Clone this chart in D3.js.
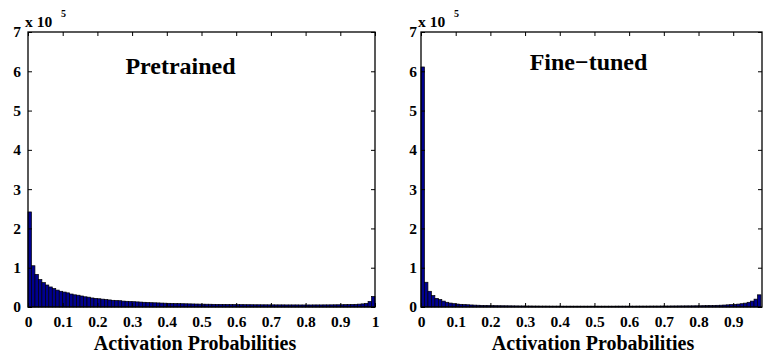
<!DOCTYPE html>
<html>
<head>
<meta charset="utf-8">
<script src="https://cdn.jsdelivr.net/npm/d3@7"></script>
<style>
  html, body { margin: 0; padding: 0; background: #fff; }
  svg { display: block; }
  text { font-family: "Liberation Serif", "Times New Roman", serif; font-weight: bold; fill: #000; }
</style>
</head>
<body>
<svg id="chart" width="764" height="358"></svg>
<script>
// ---- Data (counts in units of 1e5, bins of width 0.01) ----
const pretrainedCounts = [
  2.42, 1.05, 0.83, 0.70, 0.62, 0.56, 0.51, 0.47, 0.43, 0.40,
  0.38, 0.36, 0.33, 0.31, 0.30, 0.28, 0.26, 0.25, 0.23, 0.22,
  0.21, 0.20, 0.19, 0.18, 0.17, 0.165, 0.16, 0.15, 0.145, 0.14,
  0.135, 0.13, 0.125, 0.12, 0.115, 0.11, 0.107, 0.104, 0.10, 0.097,
  0.094, 0.091, 0.088, 0.086, 0.084, 0.082, 0.080, 0.078, 0.076, 0.074,
  0.072, 0.071, 0.070, 0.068, 0.067, 0.066, 0.065, 0.064, 0.063, 0.062,
  0.061, 0.060, 0.059, 0.059, 0.058, 0.057, 0.057, 0.056, 0.056, 0.055,
  0.055, 0.054, 0.054, 0.054, 0.053, 0.053, 0.053, 0.053, 0.052, 0.052,
  0.052, 0.052, 0.053, 0.053, 0.053, 0.054, 0.054, 0.055, 0.056, 0.057,
  0.058, 0.060, 0.062, 0.065, 0.068, 0.073, 0.080, 0.092, 0.14, 0.27
];
const finetunedCounts = [
  6.11, 0.63, 0.40, 0.29, 0.22, 0.19, 0.15, 0.12, 0.10, 0.085,
  0.075, 0.068, 0.062, 0.057, 0.052, 0.048, 0.045, 0.042, 0.040, 0.038,
  0.036, 0.034, 0.033, 0.032, 0.031, 0.030, 0.029, 0.028, 0.027, 0.027,
  0.026, 0.026, 0.025, 0.025, 0.024, 0.024, 0.024, 0.023, 0.023, 0.023,
  0.022, 0.022, 0.022, 0.022, 0.022, 0.022, 0.022, 0.022, 0.022, 0.022,
  0.022, 0.022, 0.022, 0.022, 0.022, 0.022, 0.023, 0.023, 0.023, 0.023,
  0.023, 0.023, 0.024, 0.024, 0.024, 0.024, 0.025, 0.025, 0.025, 0.026,
  0.026, 0.026, 0.027, 0.027, 0.028, 0.028, 0.029, 0.029, 0.030, 0.031,
  0.032, 0.034, 0.036, 0.038, 0.040, 0.043, 0.046, 0.050, 0.055, 0.060,
  0.066, 0.074, 0.084, 0.098, 0.12, 0.15, 0.20, 0.31
];
const binWidth = 0.01;
const yTicks = [0, 1, 2, 3, 4, 5, 6, 7];
const xTicksLeft = [0, 0.1, 0.2, 0.3, 0.4, 0.5, 0.6, 0.7, 0.8, 0.9, 1];
const xTicksRight = [0, 0.1, 0.2, 0.3, 0.4, 0.5, 0.6, 0.7, 0.8, 0.9];
const xLabel = "Activation Probabilities";
const titles = ["Pretrained", "Fine\u2212tuned"];

const svg = d3.select("#chart");
svg.append("rect").attr("width", 764).attr("height", 358).attr("fill", "#fff");

const panels = [
  { counts: pretrainedCounts, xmax: 1.0, x0: 28, x1: 375, ticks: xTicksLeft, title: titles[0],
    titleX: 180.5, titleY: 74, xlabelX: 195, ylabPad: 7, expX: 25 },
  { counts: finetunedCounts, xmax: 0.983, x0: 421, x1: 762, ticks: xTicksRight, title: titles[1],
    titleX: 588.5, titleY: 70, xlabelX: 593, ylabPad: 4, expX: 418 }
];
const yTop = 32, yBot = 307;
const y = d3.scaleLinear().domain([0, 7]).range([yBot, yTop]);

panels.forEach(p => {
  const x = d3.scaleLinear().domain([0, p.xmax]).range([p.x0, p.x1]);
  const g = svg.append("g");

  // bars
  g.append("g").selectAll("rect").data(p.counts).join("rect")
    .attr("x", (d, i) => x(i * binWidth))
    .attr("width", (d, i) => Math.max(0, x((i + 1) * binWidth) - x(i * binWidth)))
    .attr("y", d => y(d))
    .attr("height", d => yBot - y(d))
    .attr("fill", "#00008f")
    .attr("stroke", "#000")
    .attr("stroke-width", 0.7);

  const fmt = d => d === 0 ? "0" : d === 1 ? "1" : d3.format(".1f")(d);
  const tl = 4;

  const gb = g.append("g").attr("transform", `translate(0,${yBot})`)
    .call(d3.axisBottom(x).tickValues(p.ticks).tickFormat(fmt).tickSize(-tl).tickPadding(9));
  const gt = g.append("g").attr("transform", `translate(0,${yTop})`)
    .call(d3.axisTop(x).tickValues(p.ticks).tickFormat("").tickSize(-tl));
  const gl = g.append("g").attr("transform", `translate(${p.x0},0)`)
    .call(d3.axisLeft(y).tickValues(yTicks).tickFormat(d3.format("d")).tickSize(-tl).tickPadding(p.ylabPad));
  const gr = g.append("g").attr("transform", `translate(${p.x1},0)`)
    .call(d3.axisRight(y).tickValues(yTicks).tickFormat("").tickSize(-tl));

  [gb, gt, gl, gr].forEach(a => {
    a.select(".domain").remove();
    a.selectAll("line").attr("stroke", "#000").attr("stroke-width", 1);
    a.selectAll("text").attr("font-family", "Liberation Serif, Times New Roman, serif")
      .attr("font-weight", "bold").attr("font-size", 15.5).attr("fill", "#000");
  });
  gb.selectAll("text").attr("dy", "0.71em");

  g.append("rect")
    .attr("x", p.x0).attr("y", yTop)
    .attr("width", p.x1 - p.x0).attr("height", yBot - yTop)
    .attr("fill", "none").attr("stroke", "#000").attr("stroke-width", 1.3);

  g.append("text").attr("x", p.expX).attr("y", 26.5).attr("font-size", 15.5).text("x 10");
  g.append("text").attr("x", p.expX + 36).attr("y", 17).attr("font-size", 10).text("5");

  g.append("text").attr("x", p.titleX).attr("y", p.titleY).attr("text-anchor", "middle")
    .attr("font-size", 24).text(p.title);

  g.append("text").attr("x", p.xlabelX).attr("y", 350).attr("text-anchor", "middle")
    .attr("font-size", 20).text(xLabel);
});
</script>
</body>
</html>
